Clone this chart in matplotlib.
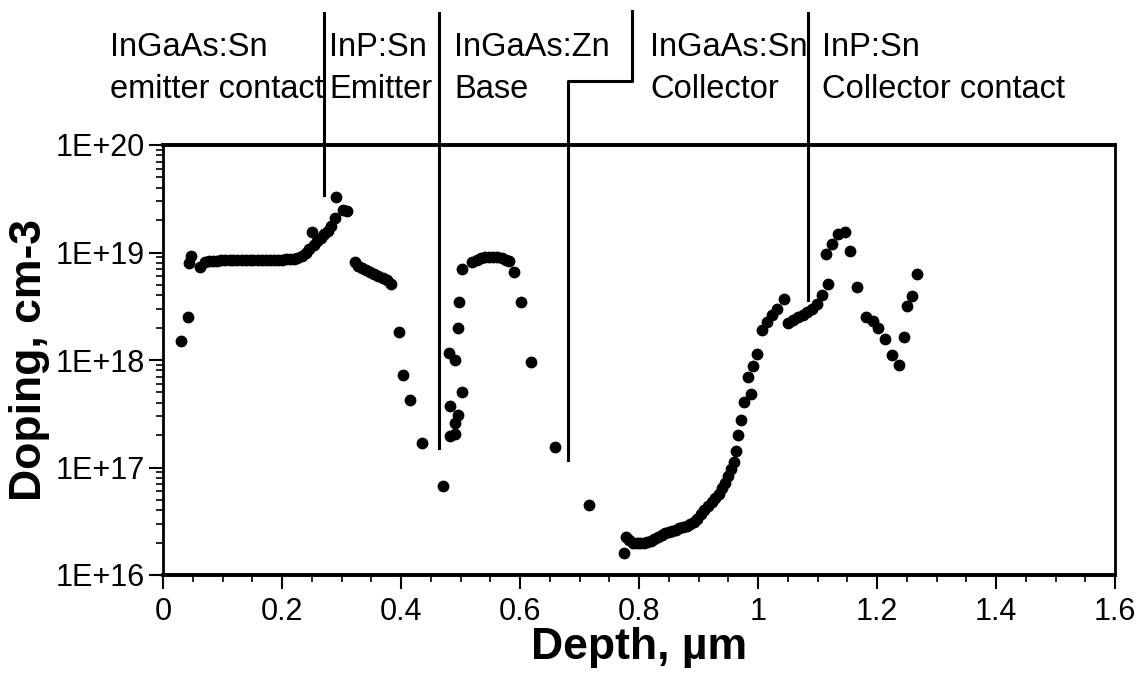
import matplotlib
matplotlib.use("Agg")
import matplotlib.pyplot as plt
from matplotlib.ticker import FixedLocator, FixedFormatter, LogLocator, NullFormatter, MultipleLocator

plt.rcParams['font.family'] = ['Liberation Sans', 'DejaVu Sans']

# ---- data: depth (um) and doping (cm-3) ----
depth = [
    0.030, 0.042, 0.044, 0.047, 0.063, 0.070, 0.077,
    0.084, 0.091, 0.098, 0.105, 0.112, 0.118, 0.125, 0.132, 0.139, 0.146, 0.152,
    0.159, 0.166, 0.173, 0.180, 0.186, 0.193, 0.200, 0.207, 0.213, 0.220,
    0.226, 0.233, 0.240, 0.246, 0.250, 0.253, 0.259, 0.265, 0.271, 0.277, 0.283,
    0.289, 0.290, 0.302, 0.310,
    0.323, 0.328, 0.334, 0.341, 0.348, 0.355, 0.362, 0.369, 0.376, 0.383,
    0.396, 0.404, 0.415, 0.436, 0.470,
    0.482, 0.491, 0.491, 0.495, 0.483, 0.502, 0.491, 0.481, 0.496, 0.497, 0.502,
    0.520, 0.527, 0.534, 0.541, 0.548, 0.555, 0.562, 0.569, 0.576, 0.581,
    0.590, 0.602, 0.619, 0.659, 0.716,
    0.774, 0.778, 0.784, 0.790, 0.796, 0.802, 0.808, 0.814, 0.820, 0.826, 0.832,
    0.838, 0.844, 0.850, 0.856, 0.862, 0.868, 0.874, 0.880, 0.886, 0.892, 0.898,
    0.904, 0.910, 0.916, 0.922, 0.928, 0.934, 0.940, 0.945, 0.950, 0.955, 0.960,
    0.963, 0.967, 0.971, 0.977, 0.983, 0.989, 0.992, 0.999, 1.006, 1.015, 1.023,
    1.032, 1.044,
    1.051, 1.059, 1.067, 1.075, 1.083, 1.091, 1.099, 1.107, 1.118,
    1.115, 1.125, 1.135, 1.146, 1.155, 1.167, 1.182, 1.194, 1.202, 1.213, 1.225,
    1.237, 1.245, 1.251, 1.258, 1.267,
]
doping = [
    1.5e18, 2.5e18, 8.0e18, 9.3e18, 7.4e18, 8.1e18, 8.3e18,
    8.4e18, 8.4e18, 8.45e18, 8.45e18, 8.5e18, 8.5e18, 8.5e18, 8.5e18, 8.5e18, 8.5e18, 8.55e18,
    8.55e18, 8.55e18, 8.55e18, 8.6e18, 8.6e18, 8.6e18, 8.6e18, 8.65e18, 8.7e18, 8.75e18,
    8.9e18, 9.3e18, 1.0e19, 1.08e19, 1.55e19, 1.17e19, 1.27e19, 1.37e19, 1.48e19, 1.6e19, 1.78e19,
    2.1e19, 3.3e19, 2.5e19, 2.45e19,
    8.2e18, 7.5e18, 7.2e18, 6.9e18, 6.6e18, 6.3e18, 6.0e18, 5.8e18, 5.5e18, 5.1e18,
    1.83e18, 7.2e17, 4.25e17, 1.7e17, 6.8e16,
    1.95e17, 2.05e17, 2.6e17, 3.1e17, 3.7e17, 5.0e17, 1.0e18, 1.15e18, 1.97e18, 3.5e18, 7.0e18,
    8.1e18, 8.5e18, 8.8e18, 9.0e18, 9.1e18, 9.1e18, 9.0e18, 8.9e18, 8.6e18, 8.3e18,
    6.6e18, 3.45e18, 9.6e17, 1.55e17, 4.5e16,
    1.6e16, 2.24e16, 2.1e16, 2.0e16, 1.97e16, 1.98e16, 2.0e16, 2.02e16, 2.06e16, 2.15e16, 2.28e16,
    2.38e16, 2.45e16, 2.52e16, 2.58e16, 2.65e16, 2.72e16, 2.8e16, 2.88e16, 2.97e16, 3.1e16, 3.3e16,
    3.7e16, 4.0e16, 4.35e16, 4.75e16, 5.2e16, 5.7e16, 6.4e16, 7.2e16, 8.3e16, 9.7e16, 1.12e17,
    1.42e17, 2.0e17, 2.76e17, 4.1e17, 7.0e17, 4.8e17, 8.8e17, 1.14e18, 1.9e18, 2.27e18, 2.6e18,
    3.0e18, 3.7e18,
    2.2e18, 2.35e18, 2.5e18, 2.65e18, 2.8e18, 3.0e18, 3.3e18, 4.0e18, 5.1e18,
    9.7e18, 1.2e19, 1.49e19, 1.55e19, 1.04e19, 4.8e18, 2.5e18, 2.3e18, 1.97e18, 1.58e18, 1.11e18,
    8.9e17, 1.65e18, 3.2e18, 3.9e18, 6.3e18,
]

# layer boundary markers (depth, lower end doping); they run up past the frame
boundary_x = [0.271, 0.464, 1.0835]
boundary_ybottom = [3.4e19, 1.52e17, 3.6e18]
line_top = 1.7e21
# stepped boundary between base and collector
step_x = [0.680, 0.680, 0.788, 0.788]
step_y = [1.17e17, 3.9e20, 3.9e20, 1.75e21]

layer_top = ["InGaAs:Sn", "InP:Sn", "InGaAs:Zn", "InGaAs:Sn", "InP:Sn"]
layer_bottom = ["emitter contact", "Emitter", "Base", "Collector", "Collector contact"]
layer_left_px = [110, 329, 454, 650, 822]

ytick_vals = [1e16, 1e17, 1e18, 1e19, 1e20]
ytick_labels = ["1E+16", "1E+17", "1E+18", "1E+19", "1E+20"]
xtick_vals = [0, 0.2, 0.4, 0.6, 0.8, 1.0, 1.2, 1.4, 1.6]
xtick_labels = ["0", "0.2", "0.4", "0.6", "0.8", "1", "1.2", "1.4", "1.6"]

W, H = 1137, 675
fig = plt.figure(figsize=(W / 100, H / 100), dpi=100)
ax = fig.add_axes([163 / W, 1 - 575 / H, (1115 - 163) / W, (575 - 145) / H])

ax.plot(depth, doping, 'o', color='black', markersize=8.5, markeredgewidth=0, clip_on=False, zorder=3)

ax.set_yscale('log')
ax.set_xlim(0, 1.6)
ax.set_ylim(1e16, 1e20)

ax.yaxis.set_major_locator(FixedLocator(ytick_vals))
ax.yaxis.set_major_formatter(FixedFormatter(ytick_labels))
ax.yaxis.set_minor_locator(LogLocator(base=10, subs=range(2, 10), numticks=20))
ax.yaxis.set_minor_formatter(NullFormatter())
ax.xaxis.set_major_locator(FixedLocator(xtick_vals))
ax.xaxis.set_major_formatter(FixedFormatter(xtick_labels))
ax.xaxis.set_minor_locator(MultipleLocator(0.05))

ax.tick_params(axis='both', which='major', direction='out', length=10, width=1.5,
               labelsize=22, colors='black')
ax.tick_params(axis='x', which='major', pad=6)
ax.tick_params(axis='y', which='major', pad=3)
ax.tick_params(axis='both', which='minor', direction='out', length=5, width=1.2)

for side, lw in [('left', 2.0), ('bottom', 2.8), ('top', 2.8), ('right', 2.0)]:
    ax.spines[side].set_linewidth(lw)
    ax.spines[side].set_color('black')

ax.set_xlabel("Depth, µm", fontsize=32, fontweight='bold', labelpad=0)
ax.set_ylabel("Doping, cm-3", fontsize=32, fontweight='bold', labelpad=4)

for bx, by in zip(boundary_x, boundary_ybottom):
    ax.plot([bx, bx], [by, line_top], color='black', lw=2.2, clip_on=False, zorder=4)
ax.plot(step_x, step_y, color='black', lw=2.2, clip_on=False, zorder=4)

for t, b, px in zip(layer_top, layer_bottom, layer_left_px):
    fig.text(px / W, 1 - 47 / H, t, fontsize=23.5, ha='left', va='center')
    fig.text(px / W, 1 - 89 / H, b, fontsize=23.5, ha='left', va='center')

fig.savefig("out.png", dpi=100)
